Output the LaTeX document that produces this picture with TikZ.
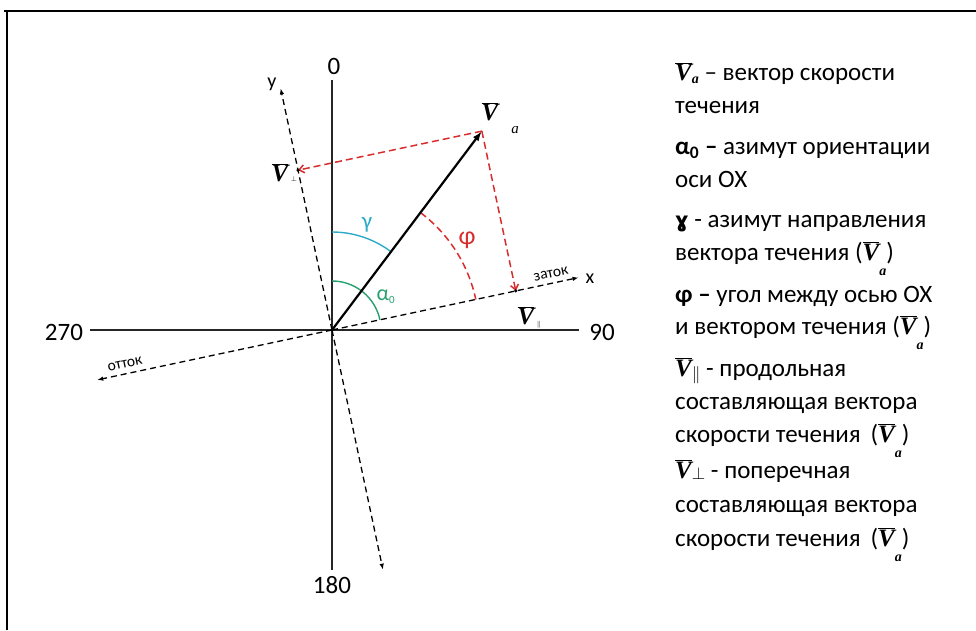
\documentclass[tikz,border=0pt]{standalone}
\usepackage{fontspec}
\setmainfont{Carlito}
\newfontfamily\vfont{Liberation Serif}
\newfontfamily\djv{DejaVu Sans}
\usetikzlibrary{arrows.meta,calc}
\definecolor{cyanc}{RGB}{45,170,200}
\definecolor{greenc}{RGB}{40,160,110}
\definecolor{redc}{RGB}{215,45,45}
\newcommand\Vb{\ensuremath{\overline{\hbox{\vfont\bfseries\itshape V}}}}
\newcommand\lowa[1]{\raisebox{#1}{\fontsize{14}{14}\selectfont\vfont\bfseries\itshape a}}
\begin{document}
\begin{tikzpicture}[x=1pt,y=1pt,
  leg/.style={anchor=base west,inner sep=0pt,font=\fontsize{25}{28}\selectfont},
  lab/.style={inner sep=0pt,font=\fontsize{25}{28}\selectfont},
  axis/.style={line width=1.7pt,black!85},
  daxis/.style={line width=1.3pt,dash pattern=on 6pt off 4pt,-{Latex[length=6pt,width=4.5pt]}},
  reddash/.style={redc,line width=1.5pt,dash pattern=on 7pt off 4pt,-{Straight Barb[length=5pt,width=8pt]}},
  dot/.style={circle,fill=black,inner sep=0pt,minimum size=3.5pt},
  vlab/.style={inner sep=0pt,font=\fontsize{25}{28}\selectfont}]
\useasboundingbox (0,0) rectangle (976,630);
% frame
\draw[line width=1.6pt] (4,619) -- (976,619);
\draw[line width=1.6pt] (7,619) -- (7,0);
% origin and points
\coordinate (O) at (332,300);
\coordinate (top) at (332,550);
\coordinate (bot) at (332,60);
\coordinate (lft) at (90,300);
\coordinate (rgt) at (579,300);
\coordinate (xp) at ($(O)+(12:252pt)$);
\coordinate (xm) at ($(O)+(192:240pt)$);
\coordinate (yp) at ($(O)+(102:247pt)$);
\coordinate (ym) at ($(O)+(282:245pt)$);
\coordinate (Va) at ($(O)+(53:249pt)$);
\coordinate (Vpar) at ($(O)+(12:187.9pt)$);
\coordinate (Vperp) at ($(O)+(102:163.4pt)$);
% main axes
\draw[axis] (top) -- (bot);
\draw[axis] (lft) -- (rgt);
\node[lab] (n0) at (334,564) {0};
\node[lab] (n180) at (332,45) {180};
\node[lab] (n270) at (64,298) {270};
\node[lab] (n90) at (602,298) {90};
% dashed axes
\draw[daxis] (O) -- (xp);
\draw[daxis] (O) -- (xm);
\draw[daxis] (O) -- (yp);
\draw[daxis] (O) -- (ym);
\node[inner sep=0pt,font=\fontsize{20}{20}\selectfont] (xl) at (590,351) {x};
\node[inner sep=0pt,font=\fontsize{20}{20}\selectfont] (yl) at (272,546) {y};
\node[inner sep=0pt,rotate=12,font=\fontsize{15.5}{16}\selectfont] (zat) at (551,356) {заток};
\node[inner sep=0pt,rotate=12,font=\fontsize{15.5}{16}\selectfont] (ott) at (125,266) {отток};
% arcs
\draw[cyanc,line width=1.4pt] ($(O)+(90:98pt)$) arc[start angle=90,end angle=53,radius=98pt];
\draw[greenc,line width=1.4pt] ($(O)+(90:49pt)$) arc[start angle=90,end angle=12,radius=49pt];
\draw[redc,line width=1.5pt,dash pattern=on 7pt off 4pt] ($(O)+(53:147pt)$) arc[start angle=53,end angle=12,radius=147pt];
\node[inner sep=0pt,text=cyanc,font=\fontsize{23}{24}\selectfont] (gam) at (367,405) {γ};
\node[inner sep=0pt,text=greenc,font=\fontsize{22}{24}\selectfont] (alp) at (386,333) {α\textsubscript{\fontsize{11}{11}\selectfont 0}};
\node[inner sep=0pt,text=redc,font=\fontsize{26}{28}\selectfont] (phi) at (467,390) {φ};
% vector
\draw[line width=2.2pt,-{Latex[length=10pt,width=7pt]}] (O) -- (Va);
% projections
\draw[reddash] (Va) -- (Vperp);
\draw[reddash] (Va) -- (Vpar);
\node[dot] (dperp) at (Vperp) {};
\node[dot] (dpar) at (Vpar) {};
% vector labels
\node[vlab] (lVa) at (490,518) {\Vb};
\node[inner sep=0pt,font=\fontsize{15}{15}\selectfont\vfont\itshape] (lVas) at (515,500) {a};
\node[vlab] (lVperp) at (280,457) {\Vb};
\node[inner sep=0pt] (lVperps) at (294,451) {$\scriptstyle\perp$};
\node[vlab] (lVpar) at (526,314) {\Vb};
\node[inner sep=0pt] (lVpars) at (539,305) {$\scriptstyle\parallel$};
% legend
\node[leg] (l1) at (675,549) {\Vb\lowa{-3pt} – вектор скорости};
\node[leg] (l2) at (675,516) {течения};
\node[leg] (l3) at (675,475) {\textbf{α\textsubscript{0} –} азимут ориентации};
\node[leg] (l4) at (675,442) {оси ОХ};
\node[leg] (l5) at (675,402) {{\djv\bfseries\fontsize{21}{24}\selectfont ɣ} - азимут направления};
\node[leg] (l6) at (675,370) {вектора течения (\Vb\lowa{-15pt})};
\node[leg] (l7) at (675,328) {\textbf{φ –} угол между осью ОХ};
\node[leg] (l8) at (675,296) {и вектором течения (\Vb\lowa{-15pt})};
\node[leg] (l9) at (675,254) {\Vb\raisebox{-3pt}{$\scriptstyle\parallel$} - продольная};
\node[leg] (l10) at (675,221) {составляющая вектора};
\node[leg] (l11) at (675,188) {скорости течения\, (\Vb\lowa{-15pt})};
\node[leg] (l12) at (675,152) {\Vb\raisebox{-1pt}{$\scriptstyle\perp$} - поперечная};
\node[leg] (l13) at (675,118) {составляющая вектора};
\node[leg] (l14) at (675,84) {скорости течения\, (\Vb\lowa{-15pt})};
\end{tikzpicture}
\end{document}
